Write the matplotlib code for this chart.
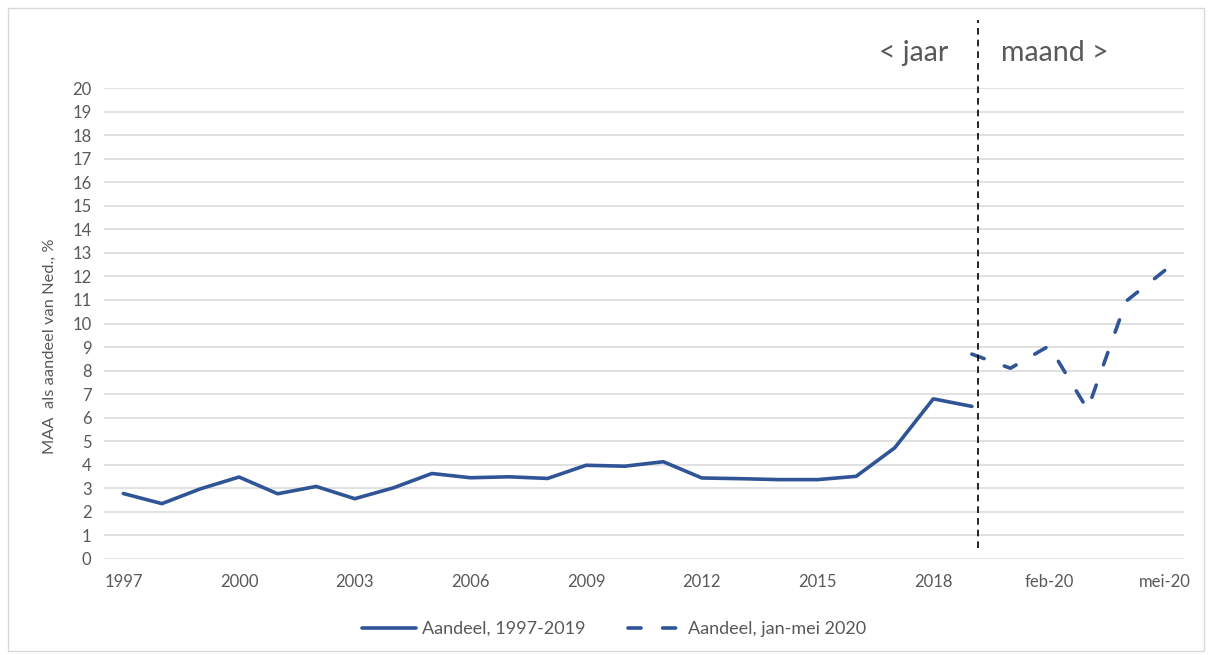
import numpy as np
import matplotlib
matplotlib.use("Agg")
import matplotlib.pyplot as plt
from matplotlib.patches import Rectangle

# ---- Data ----
years = [str(y) for y in range(1997, 2020)]
months = ["jan-20", "feb-20", "mrt-20", "apr-20", "mei-20"]
categories = years + months

# yearly share 1997-2019
share_yearly = [2.78, 2.35, 2.98, 3.48, 2.77, 3.08, 2.56, 3.02, 3.63, 3.45,
                3.49, 3.42, 3.98, 3.94, 4.13, 3.44, 3.41, 3.37, 3.37, 3.51,
                4.72, 6.80, 6.48]
# monthly share 2020, starting at the 2019 position
share_monthly = [8.70, 8.10, 9.05, 6.35, 10.95, 12.25]

tick_idx = [0, 3, 6, 9, 12, 15, 18, 21, 24, 27]
tick_labels = ["1997", "2000", "2003", "2006", "2009", "2012", "2015",
               "2018", "feb-20", "mei-20"]

BLUE = "#2F5597"
GREY_TXT = "#595959"
LW = 2.6
plt.rcParams["font.family"] = ["Lato", "DejaVu Sans"]

fig = plt.figure(figsize=(12.1, 6.55), dpi=100)
ax = fig.add_axes([0.086, 0.1466, 0.8925, 0.719])

x_year = list(range(len(share_yearly)))
x_month = list(range(len(share_yearly) - 1, len(share_yearly) - 1 + len(share_monthly)))

ax.set_xlim(-0.5, len(categories) - 0.5)
ax.set_ylim(0, 20)

# stretch the dash gap so the dashed line starts and ends on a dash
pts = ax.transData.transform(np.column_stack([x_month, share_monthly]))
length_pt = np.hypot(*np.diff(pts, axis=0).T).sum() * 72 / fig.dpi
on = 3.6
n_gaps = 9
off = (length_pt / LW - on) / n_gaps - on

ax.plot(x_year, share_yearly, color=BLUE, lw=LW, solid_joinstyle="round",
        solid_capstyle="round", label="Aandeel, 1997-2019", zorder=3)
ax.plot(x_month, share_monthly, color=BLUE, lw=LW, dashes=(on, off),
        dash_capstyle="round", dash_joinstyle="round",
        label="Aandeel, jan-mei 2020", zorder=3)

# year / month separator
ax.plot([22.15, 22.15], [0.45, 22.9], color="black", lw=1.2, ls=(0, (4, 3)),
        clip_on=False, zorder=4)
ax.text(21.4, 21.5, "< jaar", ha="right", va="center", fontsize=20.5, color=GREY_TXT)
ax.text(22.75, 21.5, "maand >", ha="left", va="center", fontsize=20.5, color=GREY_TXT)

ax.set_yticks(range(0, 21))
ax.set_xticks(tick_idx)
ax.set_xticklabels(tick_labels)
ax.tick_params(axis="both", length=0, labelsize=12, colors=GREY_TXT)
ax.tick_params(axis="x", pad=11)
ax.tick_params(axis="y", pad=9)
ax.grid(True, axis="y", color="#D9D9D9", lw=1.1)
ax.set_axisbelow(True)
for s in ax.spines.values():
    s.set_visible(False)

ax.set_ylabel("MAA  als aandeel van Ned., %", fontsize=11.8, color=GREY_TXT)
ax.yaxis.set_label_coords(-0.0435, 0.452)

fig.legend(loc="center", bbox_to_anchor=(614 / 1210, 1 - 629 / 655), ncol=2,
           frameon=False, fontsize=13, handlelength=3.0, columnspacing=2.4,
           handletextpad=0.3, labelcolor=GREY_TXT)

# chart border
fig.patches.append(Rectangle((8 / 1210, 4 / 655), 1196 / 1210, 643 / 655,
                             transform=fig.transFigure, fill=False,
                             edgecolor="#D9D9D9", lw=1))

fig.savefig("out.png", dpi=100, facecolor="white")
